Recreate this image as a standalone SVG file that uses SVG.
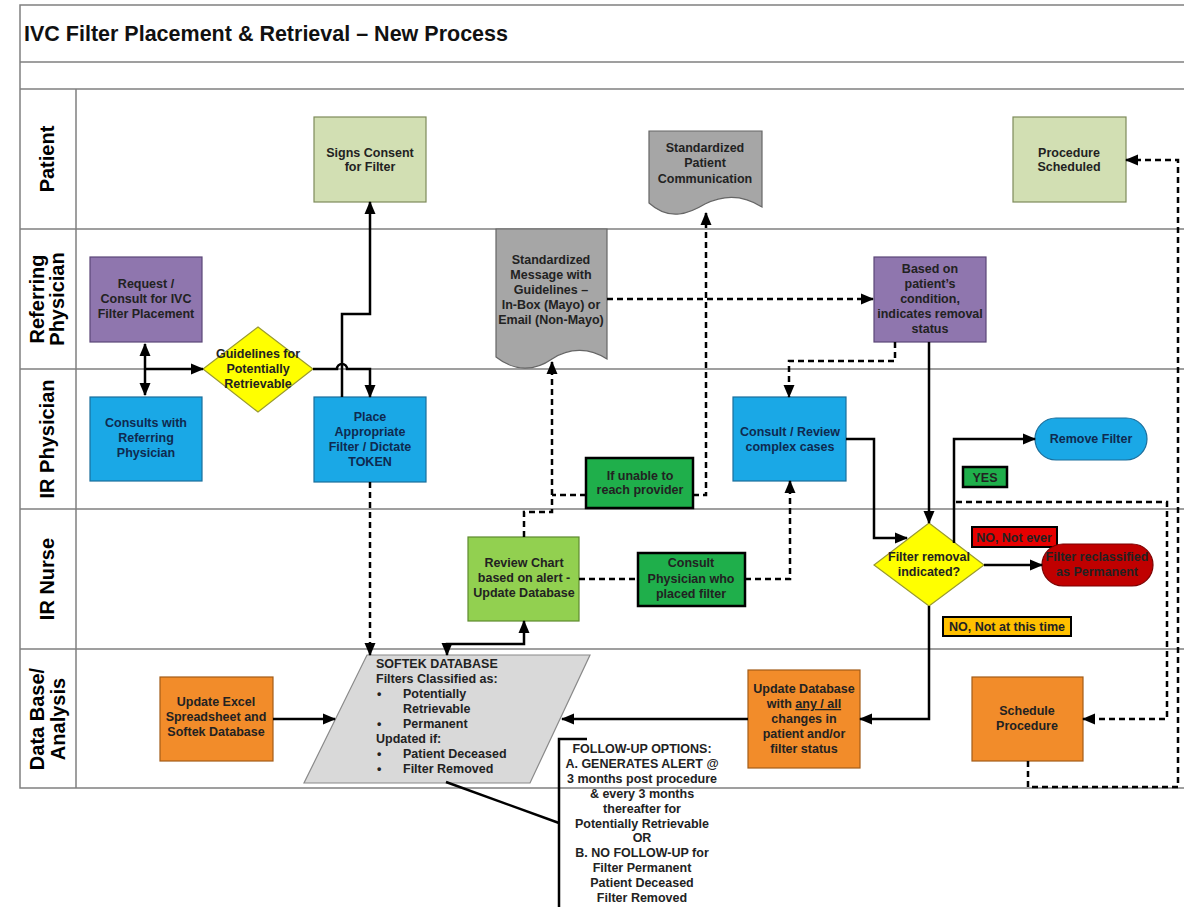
<svg xmlns="http://www.w3.org/2000/svg" width="1184" height="907" viewBox="0 0 1184 907">
<defs>
<marker id="ah" markerUnits="userSpaceOnUse" markerWidth="13" markerHeight="12" viewBox="0 0 13 12" refX="12" refY="6" orient="auto-start-reverse"><path d="M0,0.5 L13,6 L0,11.5 z" fill="#000"/></marker>
<style>
.frame{stroke:#808080;stroke-width:1.5;fill:none}
.lane{font-family:"Liberation Sans",Arial,sans-serif;font-weight:bold;font-size:20px;fill:#000;text-anchor:middle}
.t{font-family:"Liberation Sans",Arial,sans-serif;font-weight:bold;font-size:12.5px;fill:#222;text-anchor:middle}
.tb{fill:#0f2a50}
.tl{text-anchor:start}
.sol{stroke:#000;stroke-width:2.5;fill:none}
.dsh{stroke:#000;stroke-width:2.5;fill:none;stroke-dasharray:6 4}
.olive{fill:#D2DFB3;stroke:#7E8B5A;stroke-width:1.2}
.purple{fill:#8F76AE;stroke:#5B4777;stroke-width:1.2}
.blue{fill:#1AA8E6;stroke:#1A6E9C;stroke-width:1.2}
.yellow{fill:#FFFF00;stroke:#9a9a30;stroke-width:1.2}
.gray{fill:#A6A6A6;stroke:#666;stroke-width:1.2}
.green{fill:#1FAF4B;stroke:#000;stroke-width:2.5}
.lgreen{fill:#92D050;stroke:#5E8A2E;stroke-width:1.2}
.orange{fill:#F28C2A;stroke:#A35C18;stroke-width:1.2}
.red{fill:#C00000;stroke:#7A0000;stroke-width:1.2}
.lgray{fill:#D9D9D9;stroke:#8a8a8a;stroke-width:1.2}
</style>
</defs>
<rect width="1184" height="907" fill="#fff"/>
<g id="frame">
<path class="frame" d="M1184,5 H20 V788 H1184 M20,62 H1184 M20,89 H1184 M20,229 H1184 M20,369 H1184 M20,509 H1184 M20,649 H1184 M76,89 V788"/>
<text x="24" y="41" font-family="Liberation Sans, Arial, sans-serif" font-weight="bold" font-size="21.5" fill="#111">IVC Filter Placement &amp; Retrieval – New Process</text>
</g>
<g id="lanes">
<text class="lane" transform="translate(54,159) rotate(-90)">Patient</text>
<text class="lane" transform="translate(44,299) rotate(-90)"><tspan x="0" y="0">Referring</tspan><tspan x="0" y="20">Physician</tspan></text>
<text class="lane" transform="translate(54,439) rotate(-90)">IR Physician</text>
<text class="lane" transform="translate(54,579) rotate(-90)">IR Nurse</text>
<text class="lane" transform="translate(44,719) rotate(-90)"><tspan x="0" y="0">Data Base/</tspan><tspan x="0" y="21">Analysis</tspan></text>
</g>
<g id="signs-consent">
<rect class="olive" x="314" y="117" width="112" height="85"/>
<text class="t"><tspan x="370" y="157">Signs Consent</tspan><tspan x="370" y="171">for Filter</tspan></text>
</g>
<g id="std-patient-comm">
<path class="gray" d="M649,131 H762 V207 C745,196 725,194 705,204 C690,213 670,222 649,203 Z"/>
<text class="t"><tspan x="705" y="152">Standardized</tspan><tspan x="705" y="167">Patient</tspan><tspan x="705" y="183">Communication</tspan></text>
</g>
<g id="procedure-scheduled">
<rect class="olive" x="1013" y="117" width="113" height="85"/>
<text class="t"><tspan x="1069" y="157">Procedure</tspan><tspan x="1069" y="171">Scheduled</tspan></text>
</g>
<g id="request-consult">
<rect class="purple" x="90" y="257" width="112" height="85"/>
<text class="t"><tspan x="146" y="288">Request /</tspan><tspan x="146" y="303">Consult for IVC</tspan><tspan x="146" y="318">Filter Placement</tspan></text>
</g>
<g id="std-message">
<path class="gray" d="M496,229 H607 V359 C590,348 570,347 552,359 C535,371 515,372 496,357 Z"/>
<text class="t"><tspan x="551" y="264">Standardized</tspan><tspan x="551" y="279">Message with</tspan><tspan x="551" y="294">Guidelines –</tspan><tspan x="551" y="309">In-Box (Mayo) or</tspan><tspan x="551" y="324">Email (Non-Mayo)</tspan></text>
</g>
<g id="based-on">
<rect class="purple" x="874" y="257" width="112" height="85"/>
<text class="t"><tspan x="930" y="273">Based on</tspan><tspan x="930" y="288">patient’s</tspan><tspan x="930" y="303">condition,</tspan><tspan x="930" y="318">indicates removal</tspan><tspan x="930" y="333">status</tspan></text>
</g>
<g id="guidelines">
<polygon class="yellow" points="258,327 313,369 258,412 203,369"/>
<text class="t"><tspan x="258" y="358">Guidelines for</tspan><tspan x="258" y="373">Potentially</tspan><tspan x="258" y="388">Retrievable</tspan></text>
</g>
<g id="consults-with">
<rect class="blue" x="90" y="397" width="112" height="84"/>
<text class="t tb"><tspan x="146" y="427">Consults with</tspan><tspan x="146" y="442">Referring</tspan><tspan x="146" y="457">Physician</tspan></text>
</g>
<g id="place-filter">
<rect class="blue" x="314" y="397" width="112" height="85"/>
<text class="t tb"><tspan x="370" y="421">Place</tspan><tspan x="370" y="436">Appropriate</tspan><tspan x="370" y="451">Filter / Dictate</tspan><tspan x="370" y="466">TOKEN</tspan></text>
</g>
<g id="consult-review">
<rect class="blue" x="733" y="397" width="113" height="84"/>
<text class="t tb"><tspan x="790" y="436">Consult / Review</tspan><tspan x="790" y="451">complex cases</tspan></text>
</g>
<g id="if-unable">
<rect class="green" x="586" y="458" width="107" height="50"/>
<text class="t"><tspan x="640" y="480">If unable to</tspan><tspan x="640" y="494">reach provider</tspan></text>
</g>
<g id="remove-filter">
<rect class="blue" x="1035" y="418" width="112" height="42" rx="21"/>
<text class="t tb" x="1091" y="443">Remove Filter</text>
</g>
<g id="yes-label">
<rect class="green" x="963" y="467" width="44" height="20" stroke-width="2"/>
<text class="t" x="985" y="482">YES</text>
</g>
<g id="filter-removal">
<polygon class="yellow" points="929,523 984,565 929,606 874,565"/>
<text class="t"><tspan x="929" y="561">Filter removal</tspan><tspan x="929" y="576">indicated?</tspan></text>
</g>
<g id="no-not-ever">
<rect x="972" y="527" width="85" height="20" fill="#E60000" stroke="#000" stroke-width="2"/>
<text class="t" x="1014" y="542" fill="#5a0000">NO, Not ever</text>
</g>
<g id="reclassified">
<rect class="red" x="1042" y="544" width="111" height="42" rx="21"/>
<text class="t" fill="#6a0000"><tspan x="1097" y="561">Filter reclassified</tspan><tspan x="1097" y="576">as Permanent</tspan></text>
</g>
<g id="no-not-now">
<rect x="943" y="617" width="128" height="19" fill="#FFC000" stroke="#000" stroke-width="2"/>
<text class="t" x="1007" y="631">NO, Not at this time</text>
</g>
<g id="review-chart">
<rect class="lgreen" x="468" y="537" width="111" height="84"/>
<text class="t"><tspan x="524" y="567">Review Chart</tspan><tspan x="524" y="582">based on alert -</tspan><tspan x="524" y="597">Update Database</tspan></text>
</g>
<g id="consult-physician">
<rect class="green" x="638" y="553" width="107" height="53"/>
<text class="t"><tspan x="691" y="567">Consult</tspan><tspan x="691" y="583">Physician who</tspan><tspan x="691" y="598">placed filter</tspan></text>
</g>
<g id="update-excel">
<rect class="orange" x="160" y="677" width="113" height="84"/>
<text class="t"><tspan x="216" y="706">Update Excel</tspan><tspan x="216" y="721">Spreadsheet and</tspan><tspan x="216" y="736">Softek Database</tspan></text>
</g>
<g id="softek">
<polygon class="lgray" points="367,655 590,655 530,783 304,783"/>
<text class="t tl"><tspan x="376" y="668">SOFTEK DATABASE</tspan><tspan x="376" y="683">Filters Classified as:</tspan><tspan x="377" y="698">•</tspan><tspan x="403" y="698">Potentially</tspan><tspan x="403" y="713">Retrievable</tspan><tspan x="377" y="728">•</tspan><tspan x="403" y="728">Permanent</tspan><tspan x="376" y="743">Updated if:</tspan><tspan x="377" y="758">•</tspan><tspan x="403" y="758">Patient Deceased</tspan><tspan x="377" y="773">•</tspan><tspan x="403" y="773">Filter Removed</tspan></text>
</g>
<g id="update-database">
<rect class="orange" x="748" y="670" width="112" height="98"/>
<text class="t"><tspan x="804" y="693">Update Database</tspan><tspan x="804" y="708">with <tspan text-decoration="underline">any / all</tspan></tspan><tspan x="804" y="723">changes in</tspan><tspan x="804" y="738">patient and/or</tspan><tspan x="804" y="753">filter status</tspan></text>
</g>
<g id="schedule-procedure">
<rect class="orange" x="972" y="677" width="111" height="84"/>
<text class="t"><tspan x="1027" y="715">Schedule</tspan><tspan x="1027" y="730">Procedure</tspan></text>
</g>
<g id="follow-up">
<text class="t"><tspan x="642" y="753">FOLLOW-UP OPTIONS:</tspan><tspan x="642" y="768">A. GENERATES ALERT @</tspan><tspan x="642" y="783">3 months post procedure</tspan><tspan x="642" y="798">&amp; every 3 months</tspan><tspan x="642" y="813">thereafter for</tspan><tspan x="642" y="828">Potentially Retrievable</tspan><tspan x="642" y="842">OR</tspan><tspan x="642" y="857">B. NO FOLLOW-UP for</tspan><tspan x="642" y="872">Filter Permanent</tspan><tspan x="642" y="887">Patient Deceased</tspan><tspan x="642" y="902">Filter Removed</tspan></text>
</g>
<g id="connectors">
<path class="sol" d="M145,344 V395" marker-start="url(#ah)" marker-end="url(#ah)"/>
<path class="sol" d="M145,369 H203" marker-end="url(#ah)"/>
<path class="sol" d="M313,369 H337 A5,5 0 0 1 347,369 H370 V397" marker-end="url(#ah)"/>
<path class="sol" d="M342,397 V314 H370 V202" marker-end="url(#ah)"/>
<path class="sol" d="M447,655 V644 H524 V621" marker-start="url(#ah)" marker-end="url(#ah)"/>
<path class="sol" d="M273,719 H335" marker-end="url(#ah)"/>
<path class="sol" d="M748,719 H562" marker-end="url(#ah)"/>
<path class="sol" d="M929,606 V719 H860" marker-end="url(#ah)"/>
<path class="sol" d="M929,342 V523" marker-end="url(#ah)"/>
<path class="sol" d="M846,439 H874 V538 H907" marker-end="url(#ah)"/>
<path class="sol" d="M954,543 V439 H1035" marker-end="url(#ah)"/>
<path class="sol" d="M984,565 H1042" marker-end="url(#ah)"/>
<path class="sol" d="M446,782 L559,823"/>
<path class="sol" d="M587,739 H559 V907"/>
<path class="dsh" d="M370,482 V655" marker-end="url(#ah)"/>
<path class="dsh" d="M524,537 V512 H552 V362" marker-end="url(#ah)"/>
<path class="dsh" d="M586,495 H552"/>
<path class="dsh" d="M693,495 H706 V213" marker-end="url(#ah)"/>
<path class="dsh" d="M607,299 H873" marker-end="url(#ah)"/>
<path class="dsh" d="M895,342 V361 H789 V397" marker-end="url(#ah)"/>
<path class="dsh" d="M579,579 H638"/>
<path class="dsh" d="M745,579 H790 V481" marker-end="url(#ah)"/>
<path class="dsh" d="M956,502 H1167 V719 H1083" marker-end="url(#ah)"/>
<path class="dsh" d="M1028,761 V787 H1178 V160 H1126" marker-end="url(#ah)"/>
</g>
</svg>
